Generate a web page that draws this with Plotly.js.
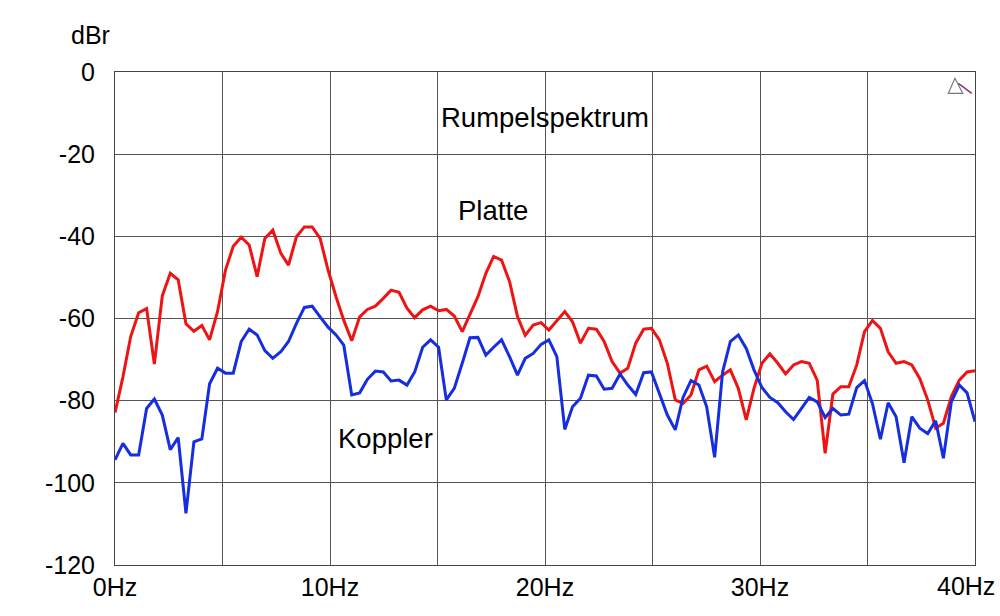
<!DOCTYPE html>
<html>
<head>
<meta charset="utf-8">
<script src="https://cdn.plot.ly/plotly-3.0.1.min.js"></script>
<style>html,body{margin:0;padding:0;background:#fff;}#chart{width:1000px;height:616px;}</style>
</head>
<body>
<div id="chart"></div>
<script>
// Frequency grid (Hz)
const freqHz = [0, 0.37, 0.73, 1.10, 1.47, 1.83, 2.20, 2.57, 2.94, 3.30, 3.67, 4.04, 4.40, 4.77, 5.14, 5.50, 5.87, 6.24, 6.61, 6.97,
  7.34, 7.71, 8.07, 8.44, 8.81, 9.17, 9.54, 9.91, 10.28, 10.64, 11.01, 11.38, 11.74, 12.11, 12.48, 12.84, 13.21, 13.58, 13.94, 14.31,
  14.68, 15.05, 15.41, 15.78, 16.15, 16.51, 16.88, 17.25, 17.61, 17.98, 18.35, 18.72, 19.08, 19.45, 19.82, 20.18, 20.55, 20.92, 21.28, 21.65,
  22.02, 22.39, 22.75, 23.12, 23.49, 23.85, 24.22, 24.59, 24.95, 25.32, 25.69, 26.06, 26.42, 26.79, 27.16, 27.52, 27.89, 28.26, 28.62, 28.99,
  29.36, 29.72, 30.09, 30.46, 30.83, 31.19, 31.56, 31.93, 32.29, 32.66, 33.03, 33.39, 33.76, 34.13, 34.50, 34.86, 35.23, 35.60, 35.96, 36.33,
  36.70, 37.06, 37.43, 37.80, 38.17, 38.53, 38.90, 39.27, 39.63, 40.00];

// Platte (red), dBr
const platte = [-82.9, -74.2, -64.4, -58.6, -57.6, -71.1, -54.5, -49.0, -50.6, -61.3, -63.1, -61.7, -65.2, -58.3, -48.2, -42.4, -40.2, -42.1, -49.8, -40.5,
  -38.5, -44.1, -47.0, -40.1, -37.7, -37.7, -40.5, -48.2, -54.7, -60.4, -65.4, -59.6, -57.8, -57.0, -55.1, -53.1, -53.6, -57.5, -59.8, -57.9,
  -57.0, -58.1, -57.8, -59.4, -63.2, -59.2, -54.7, -49.0, -44.9, -45.8, -51.0, -59.5, -64.1, -61.6, -61.0, -62.8, -60.6, -58.3, -60.8, -66.0,
  -62.4, -62.6, -65.6, -70.5, -73.3, -72.1, -66.0, -62.6, -62.4, -65.2, -70.9, -79.8, -80.7, -78.6, -72.5, -71.6, -75.4, -73.8, -72.5, -77.0,
  -84.7, -77.0, -70.9, -68.6, -70.9, -73.5, -71.3, -70.5, -70.9, -75.0, -92.8, -78.4, -76.6, -76.6, -71.3, -63.2, -60.5, -62.4, -68.1, -70.9,
  -70.5, -71.3, -74.6, -79.8, -86.7, -85.5, -79.0, -75.0, -73.0, -72.7];

// Koppler (blue), dBr
const koppler = [-94.4, -90.4, -93.2, -93.2, -81.9, -79.6, -83.5, -91.9, -89.0, -107.4, -90.0, -89.3, -75.9, -72.1, -73.3, -73.3, -65.6, -62.6, -64.0, -67.8,
  -69.7, -68.1, -65.6, -61.2, -57.3, -57.0, -59.6, -62.1, -64.0, -66.5, -78.6, -78.1, -74.8, -72.8, -73.0, -75.2, -75.0, -76.2, -73.0, -67.0,
  -65.2, -67.0, -79.8, -77.0, -70.9, -64.7, -64.6, -68.9, -67.0, -65.2, -69.3, -73.8, -69.7, -68.5, -66.3, -65.2, -69.3, -87.0, -81.5, -79.4,
  -73.8, -74.0, -77.2, -77.0, -73.5, -76.2, -78.5, -73.2, -73.0, -78.4, -83.5, -87.1, -79.2, -75.1, -76.2, -81.5, -93.8, -73.0, -65.6, -64.0,
  -67.3, -72.5, -76.8, -79.2, -80.5, -82.7, -84.6, -81.9, -79.2, -80.3, -84.1, -81.9, -83.5, -83.3, -76.8, -75.1, -80.7, -89.4, -80.5, -83.9,
  -95.1, -83.9, -86.7, -88.0, -84.9, -94.0, -80.3, -76.2, -78.1, -85.1];

const xTickVals = [0, 5, 10, 15, 20, 25, 30, 35, 40];
const xTickText = ['0Hz', '', '10Hz', '', '20Hz', '', '30Hz', '', ''];
const lastXTick = '40Hz';
const yTickVals = [0, -20, -40, -60, -80, -100, -120];
const yTickText = ['0', '-20', '-40', '-60', '-80', '-100', '-120'];

const FONT = 'Liberation Sans, Arial, sans-serif';
const FS = 25;
const FS_LABEL = 27.5;

const traces = [
  {x: freqHz, y: platte, type: 'scatter', mode: 'lines', name: 'Platte',
   line: {color: 'rgb(238,20,20)', width: 3}},
  {x: freqHz, y: koppler, type: 'scatter', mode: 'lines', name: 'Koppler',
   line: {color: 'rgb(22,46,222)', width: 3}}
];

const layout = {
  width: 1000, height: 616,
  margin: {l: 115, r: 25, t: 72, b: 51, pad: 0},
  paper_bgcolor: '#fff', plot_bgcolor: '#fff',
  showlegend: false,
  font: {family: FONT, size: FS, color: '#000'},
  xaxis: {
    range: [0, 40], tickmode: 'array', tickvals: xTickVals, ticktext: xTickText,
    showgrid: true, gridcolor: '#555', gridwidth: 1,
    showline: true, linecolor: '#444', linewidth: 1, mirror: true,
    zeroline: false, ticks: '', ticklen: 0, automargin: false,
    tickfont: {family: FONT, size: FS, color: '#000'}
  },
  yaxis: {
    range: [-120, 0], tickmode: 'array', tickvals: yTickVals, ticktext: yTickText,
    showgrid: true, gridcolor: '#555', gridwidth: 1,
    showline: true, linecolor: '#444', linewidth: 1, mirror: true,
    zeroline: false, ticks: 'outside', ticklen: 14, tickcolor: 'rgba(0,0,0,0)', automargin: false,
    tickfont: {family: FONT, size: FS, color: '#000'}
  },
  annotations: [
    {text: 'dBr', xref: 'paper', yref: 'paper', x: -0.029, y: 1.075, xanchor: 'center', yanchor: 'middle', showarrow: false,
     font: {family: FONT, size: FS, color: '#000'}},
    {text: lastXTick, xref: 'paper', yref: 'paper', x: 1.0256, y: -0.01, xanchor: 'right', yanchor: 'top', showarrow: false,
     font: {family: FONT, size: FS, color: '#000'}},
    {text: 'Rumpelspektrum', xref: 'x', yref: 'y', x: 20.0, y: -11.0, showarrow: false,
     font: {family: FONT, size: FS_LABEL, color: '#000'}},
    {text: 'Platte', xref: 'x', yref: 'y', x: 17.6, y: -33.6, showarrow: false,
     font: {family: FONT, size: FS_LABEL, color: '#000'}},
    {text: 'Koppler', xref: 'x', yref: 'y', x: 12.56, y: -89.1, showarrow: false,
     font: {family: FONT, size: FS_LABEL, color: '#000'}}
  ],
  shapes: [
    {type: 'path', xref: 'paper', yref: 'paper',
     path: 'M 0.9767 0.9872 L 0.9690 0.9568 L 0.9857 0.9568 Z',
     line: {color: '#777', width: 1.2}, fillcolor: 'rgba(0,0,0,0)'},
    {type: 'line', xref: 'paper', yref: 'paper', x0: 0.9806, y0: 0.9769, x1: 0.9962, y1: 0.9568,
     line: {color: 'rgb(140,50,120)', width: 1.5}}
  ]
};

Plotly.newPlot('chart', traces, layout, {staticPlot: true, displayModeBar: false});
</script>
</body>
</html>
